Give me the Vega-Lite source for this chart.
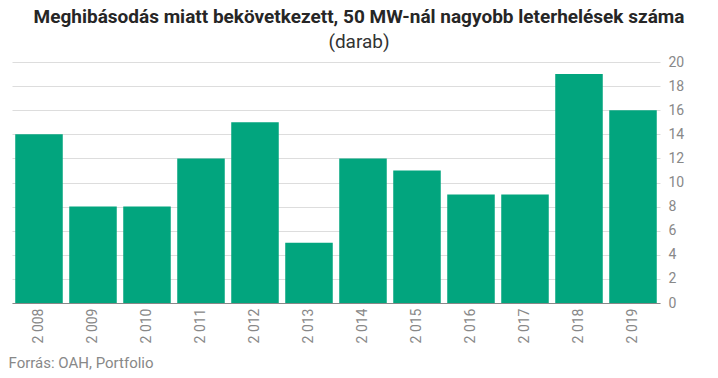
{
  "$schema": "https://vega.github.io/schema/vega-lite/v6.json",
  "autosize": {"type": "none"},
  "width": 648,
  "height": 241,
  "padding": {"left": 12, "top": 62, "right": 58, "bottom": 75},
  "background": "white",
  "title": {
    "text": "Meghibásodás miatt bekövetkezett, 50 MW-nál nagyobb leterhelések száma",
    "subtitle": "(darab)",
    "anchor": "middle",
    "frame": "group",
    "dx": 23,
    "offset": 3,
    "font": "Roboto",
    "fontSize": 19,
    "fontWeight": "bold",
    "color": "#262626",
    "subtitleFont": "Roboto",
    "subtitleFontSize": 19,
    "subtitleColor": "#333333",
    "subtitlePadding": 6
  },
  "data": {
    "values": [
      {"ev": "2 008", "darab": 14},
      {"ev": "2 009", "darab": 8},
      {"ev": "2 010", "darab": 8},
      {"ev": "2 011", "darab": 12},
      {"ev": "2 012", "darab": 15},
      {"ev": "2 013", "darab": 5},
      {"ev": "2 014", "darab": 12},
      {"ev": "2 015", "darab": 11},
      {"ev": "2 016", "darab": 9},
      {"ev": "2 017", "darab": 9},
      {"ev": "2 018", "darab": 19},
      {"ev": "2 019", "darab": 16}
    ]
  },
  "mark": {"type": "bar", "color": "#02a57e"},
  "encoding": {
    "x": {
      "field": "ev",
      "type": "nominal",
      "sort": null,
      "scale": {"paddingInner": 0.12, "paddingOuter": 0.06},
      "axis": {
        "title": "Forrás: OAH, Portfolio",
        "titleAnchor": "start",
        "titleAlign": "left",
        "titleX": -4,
        "titlePadding": 13,
        "titleFont": "Roboto",
        "titleFontSize": 15,
        "titleFontWeight": "normal",
        "titleColor": "#888888",
        "labelAngle": -90,
        "labelFont": "Roboto",
        "labelFontSize": 14,
        "labelColor": "#888888",
        "labelPadding": 5,
        "ticks": false,
        "domainColor": "#888888",
        "grid": false
      }
    },
    "y": {
      "field": "darab",
      "type": "quantitative",
      "scale": {"domain": [0, 20]},
      "axis": {
        "orient": "right",
        "title": null,
        "values": [0, 2, 4, 6, 8, 10, 12, 14, 16, 18, 20],
        "labelFont": "Roboto",
        "labelFontSize": 14,
        "labelColor": "#888888",
        "labelPadding": 8,
        "ticks": false,
        "domain": false,
        "gridColor": "#dddddd"
      }
    }
  },
  "config": {"view": {"stroke": null}}
}
